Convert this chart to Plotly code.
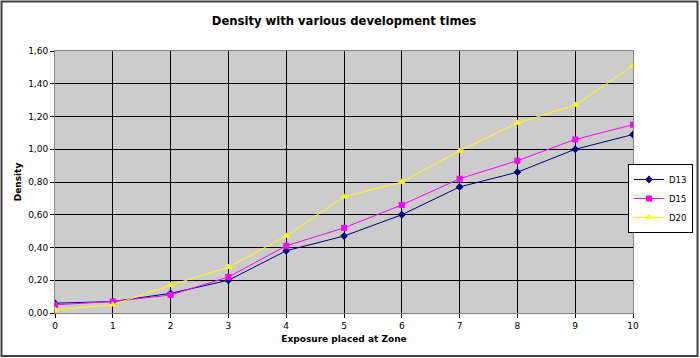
import plotly.graph_objects as go

zones = [0, 1, 2, 3, 4, 5, 6, 7, 8, 9, 10]
d13 = [0.06, 0.07, 0.12, 0.20, 0.38, 0.47, 0.60, 0.77, 0.86, 1.00, 1.09]
d15 = [0.05, 0.07, 0.11, 0.22, 0.41, 0.52, 0.66, 0.82, 0.93, 1.06, 1.15]
d20 = [0.02, 0.05, 0.17, 0.28, 0.47, 0.71, 0.80, 0.99, 1.16, 1.27, 1.51]
y_ticks = [0.0, 0.2, 0.4, 0.6, 0.8, 1.0, 1.2, 1.4, 1.6]
y_labels = ["0,00", "0,20", "0,40", "0,60", "0,80", "1,00", "1,20", "1,40", "1,60"]

W, H = 700, 358
L, R, T, B = 55, 67, 51, 45
pw, ph = W - L - R, H - T - B

def px(x):
    return (x - L) / pw

def py(y):
    return (H - B - y) / ph

font = "Verdana, DejaVu Sans, sans-serif"

fig = go.Figure()
series = [
    ("D13", d13, "#000080", "diamond", 6),
    ("D15", d15, "#FF00FF", "square", 6),
    ("D20", d20, "#FFFF00", "triangle-up", 7),
]
for name, vals, col, sym, sz in series:
    fig.add_trace(go.Scatter(
        x=zones, y=vals, name=name, mode="lines+markers",
        line=dict(color=col, width=1),
        marker=dict(symbol=sym, size=sz, color=col, line=dict(width=0)),
    ))

fig.update_layout(
    width=W, height=H,
    margin=dict(l=L, r=R, t=T, b=B, autoexpand=False),
    paper_bgcolor="white",
    plot_bgcolor="#cccccc",
    showlegend=True,
    title=dict(text="<b>Density with various development times</b>",
               x=0.5, xref="paper", xanchor="center", y=1 - 21 / H, yanchor="middle",
               font=dict(family=font, size=11.6, color="black")),
    legend=dict(x=px(693), y=py(164), xanchor="right", yanchor="top",
                bgcolor="white", bordercolor="black", borderwidth=1,
                font=dict(family=font, size=8.5, color="black"),
                tracegroupgap=0, itemwidth=30),
    xaxis=dict(range=[0, 10], tickvals=zones, ticktext=[str(z) for z in zones],
               automargin=False,
               showgrid=True, gridcolor="black", gridwidth=1,
               showline=True, linecolor="#808080", linewidth=1,
               ticks="outside", ticklen=4, tickcolor="black",
               zeroline=False, mirror=True,
               tickfont=dict(family=font, size=9, color="black"),
               title=dict(text="<b>Exposure placed at Zone</b>", standoff=5,
                          font=dict(family=font, size=9, color="black"))),
    yaxis=dict(range=[0, 1.6], tickvals=y_ticks, ticktext=y_labels,
               automargin=False,
               showgrid=True, gridcolor="black", gridwidth=1,
               showline=True, linecolor="#808080", linewidth=1,
               ticks="outside", ticklen=4, tickcolor="black",
               zeroline=False, mirror=True,
               tickfont=dict(family=font, size=9, color="black"),
               title=dict(text="<b>Density</b>", standoff=5,
                          font=dict(family=font, size=9, color="black"))),
)

fig.add_shape(type="rect", xref="paper", yref="paper",
              x0=px(1.5), x1=px(697.5), y0=py(356), y1=py(1.5),
              line=dict(color="#404040", width=2), fillcolor="rgba(0,0,0,0)",
              layer="above")

fig.write_html("out.html",
               config={"displayModeBar": False},
               post_script="document.body.style.margin='0';document.body.style.overflow='hidden';")
